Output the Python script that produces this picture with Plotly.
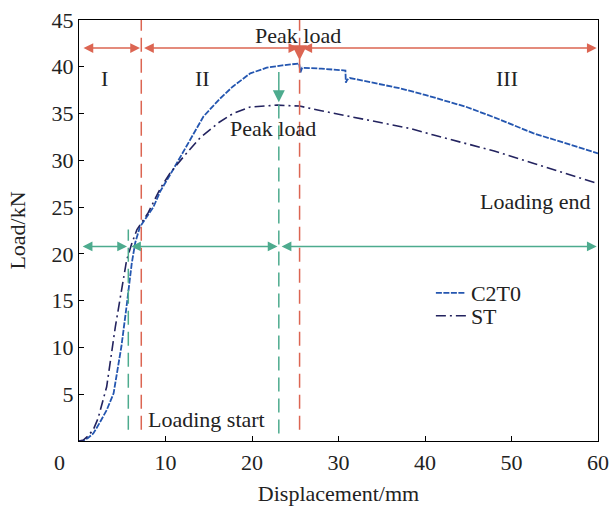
import plotly.graph_objects as go

# ---- data ----
c2t0_x = [0, 0.5, 1.0, 1.65, 2.3, 3.2, 4.0, 4.9, 5.5, 6.1, 6.5, 7.05, 8.6, 9.4, 10.5, 11.7, 13.0, 14.4,
          16.3, 17.8, 19.8, 21.7, 23.5, 25.45, 25.6, 25.8, 28, 30.8, 30.85, 31.0, 31.3, 34, 37.1, 40,
          44.8, 48, 52.5, 56, 60]
c2t0_y = [0, 0.05, 0.3, 0.8, 1.8, 3.3, 5.1, 10.1, 14.4, 19.0, 21.2, 22.9, 25.0, 26.7, 28.4, 30.3, 32.5,
          34.7, 36.6, 37.9, 39.3, 39.9, 40.15, 40.35, 39.4, 39.9, 39.8, 39.6, 38.3, 38.6, 38.8, 38.3,
          37.7, 37.0, 35.7, 34.6, 32.9, 31.9, 30.75]

st_x = [0, 0.5, 1.0, 1.65, 2.2, 3.2, 4.2, 4.9, 5.5, 6.1, 6.7, 8.0, 9.4, 10.5, 12.1, 14, 16.1, 17.8,
        19.8, 22.9, 25.5, 28, 31.3, 34, 38.3, 41, 44.8, 48, 52.5, 56, 60]
st_y = [0, 0.1, 0.5, 1.2, 2.4, 5.8, 12.2, 16.1, 19.3, 21.1, 22.6, 24.4, 27.0, 28.6, 30.4, 32.4, 34.0,
        35.0, 35.7, 35.9, 35.8, 35.3, 34.7, 34.2, 33.4, 32.7, 31.8, 31.0, 29.7, 28.7, 27.5]

# stage boundaries (displacement, mm)
c2t0_bounds = [7.2, 25.5]   # red
st_bounds = [5.7, 23.1]     # green
c2t0_peak = 40.4
st_peak = 36.2
red_arrow_level = 42.0
green_arrow_level = 20.8

x_ticks = [10, 20, 30, 40, 50, 60]
y_ticks = [5, 10, 15, 20, 25, 30, 35, 40, 45]

RED = "#dc6552"
GREEN = "#4dab8e"
BLUE = "#2456b0"
NAVY = "#23235f"
FONT = "Liberation Serif"
FS = 22

fig = go.Figure()
fig.add_trace(go.Scatter(x=c2t0_x, y=c2t0_y, mode="lines", name="C2T0", legend="legend",
                         line=dict(color=BLUE, width=1.8, dash="6px,1.5px")))
fig.add_trace(go.Scatter(x=st_x, y=st_y, mode="lines", name="ST", legend="legend2",
                         line=dict(color=NAVY, width=1.6, dash="10px,4px,2px,4px")))

shapes = []
for xv in c2t0_bounds:
    shapes.append(dict(type="line", xref="x", yref="y", x0=xv, x1=xv, y0=1.2, y1=45,
                       line=dict(color=RED, width=1.5, dash="14px,7px")))
shapes.append(dict(type="line", xref="x", yref="y", x0=st_bounds[0], x1=st_bounds[0], y0=1.2, y1=22.6,
                   line=dict(color=GREEN, width=1.5, dash="14px,7px")))
shapes.append(dict(type="line", xref="x", yref="y", x0=st_bounds[1], x1=st_bounds[1], y0=0.8, y1=36.0,
                   line=dict(color=GREEN, width=1.5, dash="14px,7px")))

ann = []


def darrow(x0, x1, y, color):
    ann.append(dict(x=x1, y=y, ax=x0, ay=y, xref="x", yref="y", axref="x", ayref="y",
                    text="", showarrow=True, arrowhead=2, startarrowhead=2, arrowside="end+start",
                    arrowsize=1.3, startarrowsize=1.3, arrowwidth=1.5, arrowcolor=color,
                    standoff=0, startstandoff=0))


def varrow(x, y0, y1, color, size=1.5):
    ann.append(dict(x=x, y=y1, ax=x, ay=y0, xref="x", yref="y", axref="x", ayref="y",
                    text="", showarrow=True, arrowhead=2, arrowsize=size, arrowwidth=1.5,
                    arrowcolor=color, standoff=0))


red_edges = [0.2] + c2t0_bounds + [60]
for a, b in zip(red_edges[:-1], red_edges[1:]):
    darrow(a + 0.15, b - 0.15, red_arrow_level, RED)
green_edges = [0.1] + st_bounds + [60]
for a, b in zip(green_edges[:-1], green_edges[1:]):
    darrow(a + 0.15, b - 0.15, green_arrow_level, GREEN)
varrow(c2t0_bounds[1], red_arrow_level, c2t0_peak + 0.3, RED, 2.0)
varrow(st_bounds[1], 39.6, st_peak, GREEN, 1.6)

tf = dict(family=FONT, size=FS, color="#222222")
for txt, xv, yv, xa in [("I", 2.9, 38.8, "center"), ("II", 14.3, 38.8, "center"),
                        ("III", 49.5, 38.8, "center"), ("Peak load", 25.3, 43.3, "center"),
                        ("Peak load", 22.4, 33.35, "center"), ("Loading end", 52.8, 25.65, "center"),
                        ("Loading start", 7.7, 2.3, "left")]:
    ann.append(dict(x=xv, y=yv, xref="x", yref="y", text=txt, showarrow=False,
                    xanchor=xa, yanchor="middle", font=tf))
# shared origin label
ann.append(dict(x=0, y=0, xref="x", yref="y", xshift=-20, yshift=-21,
                text="0", showarrow=False, font=tf, xanchor="center", yanchor="middle"))

leg_common = dict(xanchor="left", yanchor="middle", bgcolor="rgba(0,0,0,0)",
                  font=dict(family=FONT, size=FS, color="#222222"), itemwidth=30)

fig.update_layout(
    width=610, height=506,
    margin=dict(l=79, r=12, t=20, b=65, autoexpand=False),
    paper_bgcolor="white", plot_bgcolor="white",
    font=dict(family=FONT, size=FS, color="#222222"),
    shapes=shapes, annotations=ann,
    showlegend=True,
    legend=dict(x=0.678, y=0.3515, **leg_common),
    legend2=dict(x=0.678, y=0.297, **leg_common),
)
fig.update_xaxes(range=[0, 60], tickvals=x_ticks, ticktext=[str(v) for v in x_ticks],
                 showgrid=False, zeroline=False, showline=True, linecolor="black", linewidth=1,
                 mirror=True, ticks="inside", ticklen=5, tickcolor="black", automargin=False,
                 ticklabelstandoff=2,
                 title=dict(text="Displacement/mm", font=dict(family=FONT, size=FS), standoff=16))
fig.update_yaxes(range=[0, 45], tickvals=y_ticks, ticktext=[str(v) for v in y_ticks],
                 showgrid=False, zeroline=False, showline=True, linecolor="black", linewidth=1,
                 mirror=True, ticks="inside", ticklen=5, tickcolor="black", automargin=False,
                 title=dict(text="Load/kN", font=dict(family=FONT, size=FS), standoff=19))

# remove the browser's default page margin so the figure fills the window exactly
fig.write_html("out.html", config={"displayModeBar": False},
               post_script="document.body.style.margin='0';document.body.style.overflow='hidden';")
